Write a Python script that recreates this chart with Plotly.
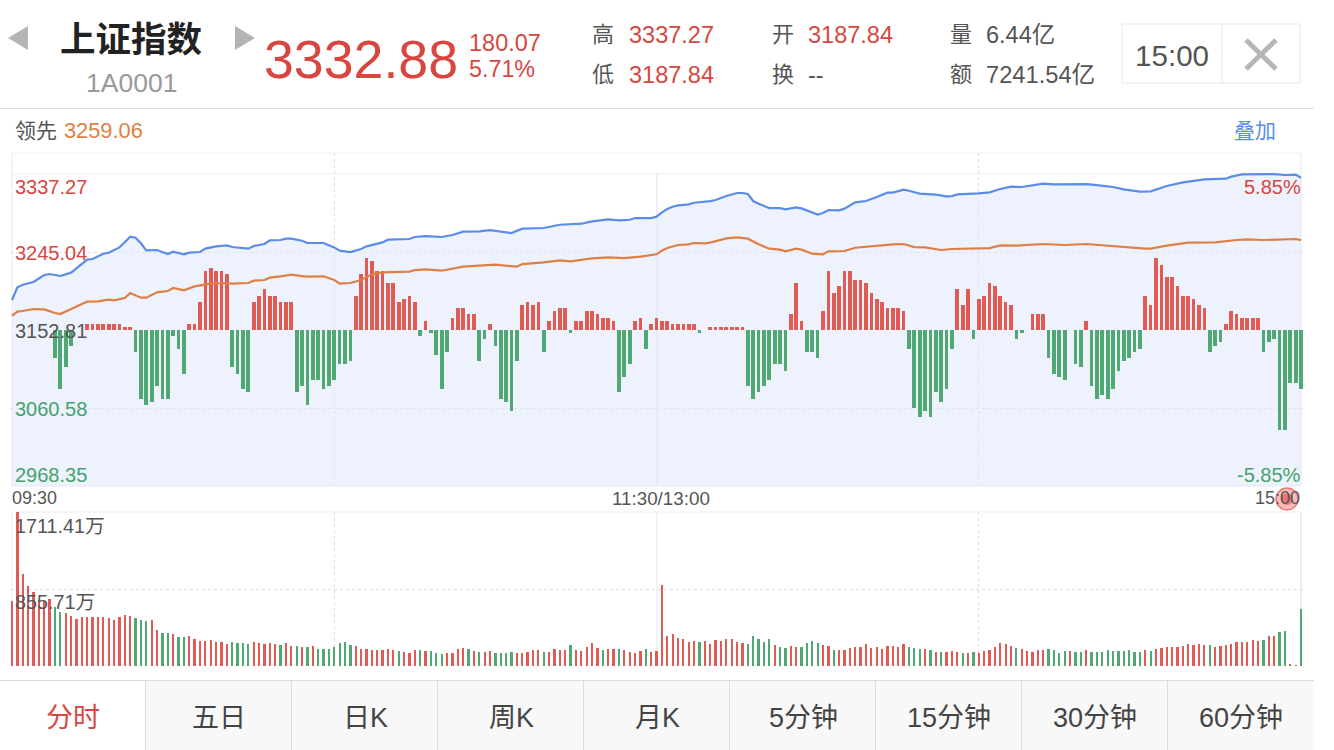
import plotly.graph_objects as go

W, H = 1334, 750
RED = "#e25a54"
GREEN = "#50a873"
TXT_RED = "#d9453f"
TXT_GREEN = "#45a26c"
GREY = "#555555"
LINE_GREY = "#e4e4e4"
SANS = "Liberation Sans, Noto Sans CJK SC"

# price line, minute index since 09:30 and value
price_min = [0, 1, 2, 4, 6, 7, 8, 9, 11, 13, 14, 15, 17, 18, 20, 21, 22, 23, 24, 25, 27, 29, 30, 32, 33, 35, 36, 38, 40, 41,
             44, 45, 47, 48, 50, 51, 52, 54, 55, 58, 59, 60, 61, 63, 65, 66, 69, 70, 74, 75, 77, 80, 82, 84, 87, 89, 93, 95, 99, 102,
             106, 108, 111, 113, 115, 116, 119, 120, 121, 122, 123, 124, 126, 127, 130, 131, 133, 135, 136, 137, 138, 139, 141, 143, 144, 146, 147, 149, 150, 151,
             152, 154, 155, 157, 159, 161, 163, 164, 166, 167, 169, 172, 174, 175, 176, 180, 182, 184, 186, 188, 190, 192, 194, 196, 200, 202, 205, 207, 210, 212,
             213, 215, 218, 220, 222, 226, 227, 229, 232, 235, 237, 239, 240]
price = [3188.3, 3203.3, 3206.4, 3209.6, 3217.8, 3219.0, 3217.8, 3216.7, 3220.6, 3231.6, 3236.0, 3236.7, 3243.0, 3244.2, 3250.5, 3256.5, 3263.2, 3262.0, 3255.3, 3247.0,
         3247.4, 3242.7, 3245.4, 3242.3, 3244.2, 3245.0, 3249.0, 3251.7, 3252.9, 3250.9,
         3249.0, 3252.1, 3254.5, 3258.8, 3259.2, 3260.8, 3260.8, 3258.4, 3255.7, 3255.7, 3253.3, 3250.5, 3246.6, 3245.0, 3248.6, 3251.7, 3256.4, 3259.6, 3260.4, 3262.8,
         3263.9, 3262.8, 3265.1, 3269.1, 3269.5, 3271.0, 3267.5, 3272.6, 3273.4, 3277.3,
         3278.5, 3281.3, 3283.6, 3282.5, 3283.2, 3285.2, 3285.2, 3286.8, 3291.9, 3295.9, 3298.6, 3300.2, 3301.4, 3303.3, 3305.3, 3306.5, 3311.2, 3314.8, 3314.8, 3313.6,
         3305.3, 3302.2, 3297.0, 3297.0, 3295.5, 3297.8, 3296.6, 3291.5, 3289.2, 3291.1,
         3294.7, 3294.3, 3296.3, 3303.7, 3305.3, 3310.0, 3315.2, 3315.2, 3318.7, 3317.5, 3314.0, 3312.8, 3310.8, 3311.2, 3313.2, 3314.4, 3315.6, 3319.5, 3322.3, 3321.9,
         3323.8, 3325.8, 3325.0, 3325.0, 3325.4, 3324.2, 3321.9, 3319.1, 3316.4, 3316.7,
         3319.1, 3323.1, 3327.4, 3329.0, 3330.9, 3331.7, 3334.1, 3336.8, 3337.2, 3337.2, 3336.1, 3336.5, 3332.88]

# average line ("领先")
avg_min = [0, 1, 2, 4, 6, 8, 9, 11, 13, 14, 16, 18, 19, 21, 22, 24, 25, 27, 29, 30, 32, 34, 37, 40, 41, 44, 45, 47, 48, 50,
           52, 54, 55, 58, 59, 60, 61, 63, 65, 67, 69, 74, 75, 77, 80, 82, 84, 87, 90, 94, 95, 99, 102, 104, 108, 111, 114, 117, 120, 121,
           122, 124, 126, 127, 129, 130, 133, 135, 137, 139, 141, 143, 144, 146, 147, 149, 150, 151, 152, 155, 157, 160, 164, 166, 168, 170, 173, 175, 180, 182,
           184, 187, 192, 196, 200, 205, 207, 211, 212, 215, 219, 224, 228, 230, 233, 237, 239, 240]
avg = [3169.4, 3174.5, 3175.3, 3177.6, 3177.2, 3172.9, 3171.7, 3178.0, 3183.5, 3186.3, 3186.7, 3188.7, 3187.9, 3190.6, 3196.5, 3191.0, 3191.0, 3197.3, 3198.9, 3202.5,
       3199.7, 3204.4, 3207.6, 3208.4, 3207.6, 3208.4, 3211.1, 3211.9, 3214.7, 3216.3,
       3218.2, 3216.6, 3215.9, 3216.3, 3214.3, 3211.9, 3207.6, 3208.4, 3211.9, 3218.6, 3221.0, 3221.8, 3223.7, 3224.5, 3222.9, 3225.3, 3227.7, 3228.9, 3230.0, 3227.7,
       3230.8, 3232.8, 3235.2, 3234.0, 3237.5, 3238.7, 3237.9, 3239.5, 3242.3, 3246.6,
       3249.7, 3253.3, 3254.1, 3255.7, 3255.3, 3256.1, 3261.2, 3262.4, 3260.8, 3254.1, 3249.0, 3247.8, 3245.8, 3249.0, 3247.8, 3243.0, 3242.3, 3242.3, 3245.8, 3246.2,
       3250.1, 3252.1, 3254.1, 3254.5, 3250.9, 3250.5, 3247.4, 3248.6, 3249.7, 3249.7,
       3252.9, 3252.5, 3254.5, 3253.3, 3254.5, 3252.1, 3250.5, 3249.0, 3249.0, 3252.5, 3256.1, 3256.4, 3259.2, 3260.0, 3259.2, 3260.4, 3260.4, 3259.06]

# red/green histogram, one per minute
macd = [0, 0, 0, 0, 0, 0, 0, 0, -9, -19, -12, -5, 0, 0, 2, 2, 2, 2, 2, 2, 2, 1, 1, -7, -22, -24, -23, -18, -22, -22,
        -2, -6, -14, 2, 2, 9, 19, 20, 19, 19, 18, -12, -14, -19, -20, 9, 11, 13, 11, 11, 9, 9, 9, -20, -18, -24, -16, -16, -19, -18,
        -16, -11, -11, -10, 11, 18, 23, 22, 19, 19, 15, 15, 9, 10, 11, 9, -2, 3, -1, -8, -19, -7, 4, 7, 7, 5, 5, -10, -3, 2,
        -5, -22, -23, -26, -10, 8, 9, 8, 9, -7, 3, 6, 7, 7, -1, 3, 3, 6, 6, 5, 4, 4, 3, -20, -15, -11, 3, 4, -6, 2,
        4, 3, 3, 2, 2, 2, 2, 2, -1, 0, 1, 1, 1, 1, 1, 1, 1, -18, -22, -20, -18, -16, -11, -11, -13, 5, 15, 3, -7, -7,
        -9, 6, 19, 12, 14, 19, 19, 16, 16, 15, 12, 10, 9, 7, 7, 7, 6, -6, -25, -28, -26, -28, -20, -23, -19, -6, 13, 8, 13, -3,
        10, 11, 15, 14, 11, 9, 8, -3, -1, 0, 5, 5, 5, -9, -14, -15, -16, 0, -11, -12, 3, -18, -22, -21, -22, -19, -13, -10, -9, -7,
        -6, 11, 8, 23, 21, 17, 17, 14, 11, 11, 10, 8, 7, -7, -5, -4, 2, 6, 5, 4, 4, 4, 4, -7, -4, -3, -32, -32, -17, -17, -19]

# volume per minute in 万, vol_up 1 = red bar, 0 = green bar
volume = [718, 1711, 1025, 884, 825, 729, 710, 744, 659, 599, 585, 551, 522, 540, 548, 544, 540, 540, 537, 507, 544, 570, 559, 529, 514, 496, 507, 396, 370, 370,
          359, 322, 318, 337, 300, 274, 281, 292, 263, 263, 244, 263, 259, 259, 240, 266, 252, 244, 259, 248, 233, 252, 226, 218, 207, 207, 218, 185, 185, 189,
          207, 255, 266, 229, 222, 192, 192, 178, 174, 174, 189, 174, 163, 152, 144, 178, 174, 163, 163, 144, 137, 141, 144, 189, 204, 185, 163, 159, 159, 163,
          141, 148, 141, 152, 144, 148, 152, 181, 174, 155, 159, 189, 174, 181, 233, 174, 167, 211, 252, 196, 178, 192, 189, 189, 178, 155, 144, 167, 192, 155,
          170, 899, 333, 355, 311, 296, 270, 278, 263, 274, 241, 285, 281, 296, 300, 263, 252, 244, 329, 300, 263, 300, 237, 207, 200, 218, 211, 207, 255, 281,
          252, 229, 218, 178, 178, 178, 196, 211, 207, 241, 200, 211, 189, 222, 222, 211, 241, 207, 196, 185, 189, 174, 159, 159, 152, 167, 155, 144, 148, 152,
          148, 167, 181, 211, 252, 241, 218, 204, 185, 163, 155, 181, 178, 189, 174, 148, 170, 167, 155, 155, 174, 159, 155, 152, 174, 163, 163, 170, 174, 159,
          159, 181, 170, 185, 196, 207, 215, 215, 222, 244, 229, 241, 233, 233, 211, 222, 229, 241, 263, 263, 266, 285, 281, 289, 329, 333, 374, 389, 26, 7, 629]
vol_up = [1, 1, 1, 1, 1, 1, 1, 1, 0, 0, 1, 1, 1, 1, 1, 1, 1, 1, 1, 1, 1, 1, 1, 0, 0, 0, 1, 1, 0, 0,
          1, 0, 0, 1, 1, 1, 1, 1, 1, 1, 1, 0, 0, 0, 0, 1, 1, 1, 1, 1, 0, 1, 1, 0, 1, 0, 1, 0, 0, 0,
          0, 0, 0, 0, 1, 1, 1, 1, 1, 1, 1, 1, 0, 1, 1, 1, 0, 1, 0, 0, 0, 1, 1, 1, 1, 0, 1, 0, 1, 1,
          0, 0, 0, 0, 1, 1, 1, 1, 1, 0, 1, 1, 1, 1, 0, 1, 1, 1, 1, 1, 0, 1, 1, 0, 1, 1, 1, 1, 0, 1,
          1, 1, 1, 1, 1, 1, 1, 1, 0, 1, 1, 1, 1, 1, 1, 1, 1, 0, 0, 0, 0, 0, 1, 0, 0, 1, 1, 0, 0, 0,
          0, 1, 1, 0, 1, 1, 1, 1, 1, 1, 1, 1, 1, 1, 1, 1, 1, 0, 0, 0, 1, 0, 1, 0, 1, 1, 1, 0, 1, 0,
          1, 1, 1, 1, 1, 1, 1, 0, 1, 1, 1, 1, 1, 0, 0, 0, 0, 1, 0, 0, 1, 0, 0, 0, 0, 0, 0, 0, 0, 0,
          0, 1, 0, 1, 1, 1, 1, 1, 1, 1, 1, 1, 1, 0, 1, 1, 1, 1, 1, 1, 1, 1, 1, 0, 1, 1, 0, 0, 1, 1, 0]

price_ticks = [3245.04, 3060.58]
vol_ticks = [855.71]
time_ticks = [60, 180]
tabs = ["分时", "五日", "日K", "周K", "月K", "5分钟", "15分钟", "30分钟", "60分钟"]

minutes = list(range(241))
macd_colors = [RED if v > 0 else GREEN for v in macd]
vol_colors = [RED if u else GREEN for u in vol_up]


def px(x):
    return x / W


def py(y):
    return 1 - y / H


def label(x, y, text, size, color=GREY, anchor="left", bold=False):
    if bold:
        text = "<b>" + text + "</b>"
    # text sat one pixel inside its anchor
    nudge = {"left": -1, "right": 1, "center": 0}[anchor]
    return dict(x=px(x + nudge), y=py(y), xref="paper", yref="paper", text=text, showarrow=False,
                xanchor=anchor, yanchor="middle", borderpad=0,
                font=dict(family=SANS, size=size, color=color))


def hline(y, x0=0, x1=1314, color=LINE_GREY, width=1):
    return dict(type="line", xref="paper", yref="paper", x0=px(x0), x1=px(x1), y0=py(y), y1=py(y),
                line=dict(color=color, width=width), layer="below")


def vline(x, y0, y1, color=LINE_GREY, width=1):
    return dict(type="line", xref="paper", yref="paper", x0=px(x), x1=px(x), y0=py(y0), y1=py(y1),
                line=dict(color=color, width=width), layer="below")


def rect(x0, y0, x1, y1, fill, line="rgba(0,0,0,0)"):
    return dict(type="rect", xref="paper", yref="paper", x0=px(x0), x1=px(x1), y0=py(y0), y1=py(y1),
                fillcolor=fill, line=dict(color=line, width=1), layer="below")


def tri(points, color="#b4b4b4"):
    path = "M" + " L".join(f"{px(a):.5f},{py(b):.5f}" for a, b in points) + " Z"
    return dict(type="path", xref="paper", yref="paper", path=path, fillcolor=color, line=dict(width=0), layer="above")


fig = go.Figure()

# light fill under the price sits lowest, histogram next, lines on top
fig.add_trace(go.Scatter(x=price_min, y=price, mode="lines", line=dict(width=0), fill="tozeroy",
                         fillcolor="rgba(222,231,251,0.55)", xaxis="x", yaxis="y", hoverinfo="skip"))
fig.add_trace(go.Bar(x=minutes, y=macd, width=0.69, marker=dict(color=macd_colors, line=dict(width=0)),
                     xaxis="x", yaxis="y2"))
fig.add_trace(go.Scatter(x=price_min, y=price, mode="lines", line=dict(color="#5b8de8", width=2.2),
                         xaxis="x", yaxis="y3"))
fig.add_trace(go.Scatter(x=avg_min, y=avg, mode="lines", line=dict(color="#e07f45", width=2.2),
                         xaxis="x", yaxis="y3"))
fig.add_trace(go.Bar(x=minutes, y=volume, width=0.42, marker=dict(color=vol_colors, line=dict(width=0)),
                     xaxis="x2", yaxis="y4"))

# pixel frame: x 12..1301 is minute 0..240, bars hang a little over both ends
x_dom = [px(10), px(1305)]
x_rng = [-0.372, 240.74]
main_dom = [py(486), py(153)]
vol_dom = [py(666), py(512)]
price_rng = [2968.35, 3362.1]
grid = dict(showgrid=True, griddash="dot", gridcolor="#dfdfdf", gridwidth=1, zeroline=False,
            showticklabels=False, ticks="", showline=False)

fig.update_layout(
    width=W, height=H, margin=dict(l=0, r=0, t=0, b=0), autosize=False,
    paper_bgcolor="white", plot_bgcolor="rgba(0,0,0,0)", showlegend=False, hovermode=False, bargap=0,
    xaxis=dict(domain=x_dom, range=x_rng, tickmode="array", tickvals=time_ticks, **grid),
    xaxis2=dict(domain=x_dom, range=x_rng, tickmode="array", tickvals=time_ticks, anchor="y4", **grid),
    yaxis=dict(domain=main_dom, range=price_rng, tickmode="array", tickvals=price_ticks, **grid),
    yaxis2=dict(overlaying="y", range=[-50.05, 56.79], visible=False),
    yaxis3=dict(overlaying="y", range=price_rng, visible=False),
    yaxis4=dict(domain=vol_dom, range=[0, 1711.41], anchor="x2", tickmode="array", tickvals=vol_ticks, **grid),
)

shapes = [
    hline(108.5, color="#dddddd"),
    hline(153, 12, 1301, "#f0f0f0"),
    hline(174, 12, 1301, "#f0f0f0"),
    hline(486, 12, 1301, "#e6eaf4"),
    vline(12, 153, 486, "#e8e8ee"),
    vline(1301, 153, 486, "#e8e8ee"),
    vline(657, 174, 486, "#e8ebf3", 1.5),
    hline(512, 12, 1301, "#efefef"),
    vline(12, 512, 666, "#efefef"),
    vline(1301, 512, 666, "#e8e8e8", 1.5),
    vline(657, 512, 666, "#efefef", 1.5),
    # header widgets
    tri([(28, 26), (28, 50), (8, 38)]),
    tri([(235, 26), (235, 50), (255, 38)]),
    rect(1122, 24, 1300, 83, "white", "#e8e8e8"),
    vline(1222, 24, 83, "#e8e8e8"),
    dict(type="line", xref="paper", yref="paper", x0=px(1246), x1=px(1276), y0=py(40), y1=py(69),
         line=dict(color="#b6b6b6", width=5)),
    dict(type="line", xref="paper", yref="paper", x0=px(1246), x1=px(1276), y0=py(69), y1=py(40),
         line=dict(color="#b6b6b6", width=5)),
    # bottom tab bar
    rect(146, 681, 1313, 750, "#f8f8f8"),
    hline(680.5, color="#dcdcdc"),
    # last-point marker
    dict(type="circle", xref="paper", yref="paper", x0=px(1276), x1=px(1298), y0=py(488), y1=py(510),
         fillcolor="rgba(232,90,84,0.4)", line=dict(color="rgba(226,80,74,0.7)", width=1.5), layer="above"),
    dict(type="circle", xref="paper", yref="paper", x0=px(1281), x1=px(1293), y0=py(493), y1=py(505),
         fillcolor="rgba(232,90,84,0.7)", line=dict(width=0), layer="above"),
]
for i in range(1, 9):
    shapes.append(vline(145.5 + 146 * (i - 1), 681, 750, "#dcdcdc"))

notes = [
    label(131, 40, "上证指数", 35.5, "#222222", "center", True),
    label(131, 83, "1A0001", 26.5, "#999999", "center"),
    label(264, 59, "3332.88", 53.7, TXT_RED),
    label(469, 43, "180.07", 23.5, TXT_RED),
    label(469, 69, "5.71%", 23.3, TXT_RED),
    label(592, 35, "高", 22),
    label(629, 35, "3337.27", 23.5, TXT_RED),
    label(592, 75, "低", 22),
    label(629, 75, "3187.84", 23.5, TXT_RED),
    label(772, 35, "开", 22),
    label(808, 35, "3187.84", 23.5, TXT_RED),
    label(772, 75, "换", 22),
    label(808, 75, "--", 23.5),
    label(950, 35, "量", 22),
    label(986, 35, "6.44亿", 23.5),
    label(950, 75, "额", 22),
    label(986, 75, "7241.54亿", 23.7),
    label(1172, 55, "15:00", 29.6, "#555555", "center"),
    label(15, 131, "领先", 21),
    label(64, 131, "3259.06", 21.8, "#e07f45"),
    label(1276, 131, "叠加", 21, "#5b8de8", "right"),
    label(15, 187, "3337.27", 20, TXT_RED),
    label(15, 253, "3245.04", 20, TXT_RED),
    label(15, 331, "3152.81", 20),
    label(15, 409, "3060.58", 20, TXT_GREEN),
    label(15, 475, "2968.35", 20, TXT_GREEN),
    label(1301, 187, "5.85%", 20, TXT_RED, "right"),
    label(1301, 475, "-5.85%", 20, TXT_GREEN, "right"),
    label(12, 498, "09:30", 18),
    label(661, 498, "11:30/13:00", 18.8, GREY, "center"),
    label(1300, 498, "15:00", 18, GREY, "right"),
    label(15, 526, "1711.41万", 19.8),
    label(15, 602, "855.71万", 19.8),
]
for i, t in enumerate(tabs):
    notes.append(label(73 + 146 * i, 718, t, 27, TXT_RED if i == 0 else "#444444", "center"))

fig.update_layout(shapes=shapes, annotations=notes)

fig.write_html("out.html", config={"displayModeBar": False}, post_script="document.body.style.margin='0';")
